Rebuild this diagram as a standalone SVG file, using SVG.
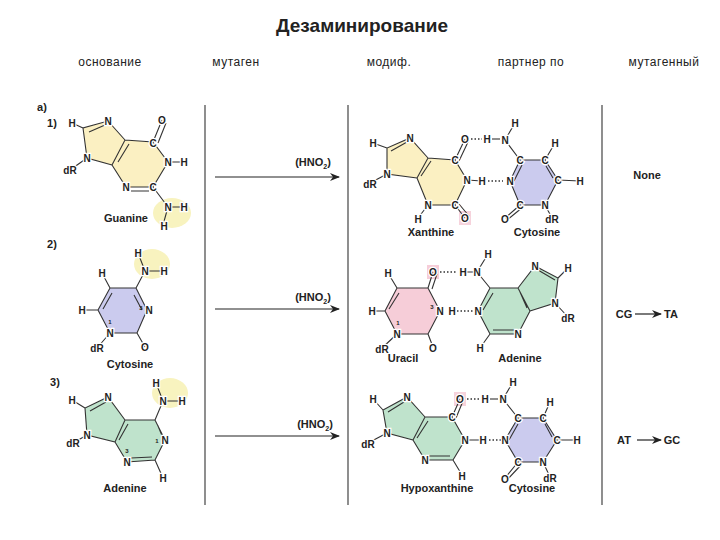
<svg xmlns="http://www.w3.org/2000/svg" width="720" height="540" viewBox="0 0 720 540">
<style>
text{font-family:"Liberation Sans",Arial,sans-serif;fill:#222}
.t{font-size:19px;font-weight:bold;text-anchor:middle}
.h{font-size:12px;text-anchor:middle;letter-spacing:0.5px}
.a{font-size:10px;font-weight:bold;text-anchor:middle;dominant-baseline:central;stroke:#fff;stroke-width:2.5;paint-order:stroke}
.s{font-size:6px;font-weight:bold;text-anchor:middle;dominant-baseline:central}
.l{font-size:11px;font-weight:bold;text-anchor:middle}
.b{fill:none;stroke:#333;stroke-width:1.1}
.d{fill:none;stroke:#333;stroke-width:1.4;stroke-dasharray:1.5 2}
.v{stroke:#444;stroke-width:1.2}
.ar{stroke:#222;stroke-width:1.2;marker-end:url(#m)}
.y{fill:#fbf0c2}.p{fill:#cbcbee}.k{fill:#f6cdd8}.g{fill:#bfe3cc}
.glow{fill:#f8f3bf}
</style>
<defs><marker id="m" markerWidth="10" markerHeight="8" refX="9" refY="4" orient="auto" markerUnits="userSpaceOnUse"><path d="M0 0L10 4L0 8L3 4Z" fill="#222"/></marker></defs>

<text class="t" x="362" y="32">Дезаминирование</text>
<text class="h" x="110" y="66">основание</text>
<text class="h" x="236" y="66">мутаген</text>
<text class="h" x="389" y="66">модиф.</text>
<text class="h" x="531" y="66">партнер по</text>
<text class="h" x="664" y="66">мутагенный</text>

<g id="frame">
<line class="v" x1="205" y1="105" x2="205" y2="505"/>
<line class="v" x1="348" y1="105" x2="348" y2="505"/>
<line class="v" x1="602" y1="105" x2="602" y2="505"/>
<text class="l" x="42" y="111">a)</text>
<text class="l" x="52" y="127">1)</text>
<text class="l" x="52" y="248">2)</text>
<text class="l" x="55" y="386">3)</text>
</g>

<g id="connectors">
<line class="ar" x1="215" y1="177" x2="339" y2="177"/>
<line class="ar" x1="215" y1="309" x2="339" y2="309"/>
<line class="ar" x1="215" y1="436" x2="339" y2="436"/>
<text class="l" x="313" y="166">(HNO<tspan font-size="7" dy="3">2</tspan><tspan dy="-3">)</tspan></text>
<text class="l" x="313" y="301">(HNO<tspan font-size="7" dy="3">2</tspan><tspan dy="-3">)</tspan></text>
<text class="l" x="315" y="428">(HNO<tspan font-size="7" dy="3">2</tspan><tspan dy="-3">)</tspan></text>
<text class="l" x="647" y="179">None</text>
<text class="l" x="624" y="318">CG</text>
<line class="ar" x1="635" y1="314" x2="661" y2="314"/>
<text class="l" x="671" y="318">TA</text>
<text class="l" x="624" y="444">AT</text>
<line class="ar" x1="637" y1="440" x2="661" y2="440"/>
<text class="l" x="672" y="444">GC</text>
</g>

<g id="guanine">
<ellipse class="glow" cx="172" cy="213" rx="19" ry="15"/>
<polygon class="y" points="125,140 153,142 168,162 153,187 126,187 112,165"/>
<polygon class="y" points="125,140 108,121 83,128 87,158 112,165"/>
<path class="b" d="M125 140L153 142L168 162L153 187L126 187L112 165Z M125 140L108 121L83 128L87 158L112 165 M153 142L162 120 M168 162L184 162 M153 187L168 207L184 207 M168 207L163 225 M83 128L72 123 M87 158L70 170 M118 162L129 144 M89 132L105 125 M158 143L166 123 M131 191L149 191"/>
<text class="a" x="108" y="121">N</text><text class="a" x="72" y="123">H</text>
<text class="a" x="162" y="120">O</text><text class="a" x="153" y="143">C</text>
<text class="a" x="168" y="162">N</text><text class="a" x="184" y="162">H</text>
<text class="a" x="153" y="187">C</text><text class="a" x="126" y="187">N</text>
<text class="a" x="87" y="158">N</text><text class="a" x="70" y="170">dR</text>
<text class="a" x="168" y="207">N</text><text class="a" x="184" y="207">H</text><text class="a" x="164" y="226">H</text>
<text class="l" x="126" y="222">Guanine</text>
</g>

<g id="cytosine1">
<ellipse class="glow" cx="152" cy="264" rx="18" ry="15"/>
<polygon class="p" points="136,288 147,310 137,333 110,333 98,310 110,288"/>
<path class="b" d="M136 288L147 310L137 333L110 333L98 310L110 288Z M136 288L145 271L164 271 M145 271L138 253 M137 333L145 347 M110 333L97 348 M110 288L102 273 M98 310L82 310 M134 295L142 310 M103 309L112 293"/>
<text class="a" x="138" y="253">H</text><text class="a" x="145" y="271">N</text><text class="a" x="164" y="271">H</text>
<text class="a" x="102" y="273">H</text><text class="a" x="82" y="310">H</text>
<text class="a" x="149" y="310">N</text><text class="s" x="141" y="308">3</text>
<text class="a" x="110" y="333">N</text><text class="s" x="110" y="322">1</text>
<text class="a" x="145" y="347">O</text><text class="a" x="97" y="348">dR</text>
<text class="l" x="130" y="368">Cytosine</text>
</g>

<g id="adenine1">
<ellipse class="glow" cx="170" cy="393" rx="18" ry="15"/>
<polygon class="g" points="125,420 155,420 165,440 155,460 127,462 115,442"/>
<polygon class="g" points="125,420 108,397 85,408 87,435 115,442"/>
<path class="b" d="M125 420L155 420L165 440L155 460L127 462L115 442Z M125 420L108 397L85 408L87 435L115 442 M155 420L163 401L182 401 M163 401L156 383 M155 460L163 478 M85 408L72 400 M87 435L73 443 M119 440L128 424 M90 411L106 402 M158 426L163 438 M131 458L152 457"/>
<text class="a" x="156" y="383">H</text><text class="a" x="163" y="401">N</text><text class="a" x="182" y="401">H</text>
<text class="a" x="108" y="397">N</text><text class="a" x="72" y="400">H</text>
<text class="a" x="165" y="440">N</text><text class="s" x="157" y="441">1</text>
<text class="a" x="127" y="462">N</text><text class="s" x="127" y="451">3</text>
<text class="a" x="87" y="435">N</text><text class="a" x="73" y="443">dR</text>
<text class="a" x="163" y="478">H</text>
<text class="l" x="125" y="492">Adenine</text>
</g>

<g id="xanthine">
<rect x="459" y="211" width="12" height="14" fill="#f6d3dc"/>
<polygon class="y" points="428,158 455,160 467,180 455,205 428,205 417,178"/>
<polygon class="y" points="428,158 410,138 387,148 387,174 417,178"/>
<path class="b" d="M428 158L455 160L467 180L455 205L428 205L417 178Z M428 158L410 138L387 148L387 174L417 178 M455 160L465 139 M467 180L482 181 M455 205L465 218 M428 205L418 218 M387 148L373 143 M387 174L370 183 M421 176L431 161 M391 151L407 142 M459 161L468 142 M459 204L469 216"/>
<text class="a" x="410" y="138">N</text><text class="a" x="373" y="143">H</text>
<text class="a" x="455" y="160">C</text><text class="a" x="465" y="139">O</text>
<text class="a" x="467" y="180">N</text><text class="a" x="482" y="181">H</text>
<text class="a" x="455" y="205">C</text><text class="a" x="465" y="218">O</text>
<text class="a" x="428" y="205">N</text><text class="a" x="418" y="219">H</text>
<text class="a" x="387" y="174">N</text><text class="a" x="370" y="184">dR</text>
<text class="l" x="431" y="236">Xanthine</text>
</g>

<g id="cytosine2">
<polygon class="p" points="520,160 545,160 558,180 545,205 520,205 510,181"/>
<path class="b" d="M520 160L545 160L558 180L545 205L520 205L510 181Z M520 160L505 140 M505 140L515 123 M545 160L555 143 M558 180L580 181 M545 205L552 218 M520 205L505 218 M546 166L553 178 M514 181L522 165 M523 207L507 220"/>
<path class="d" d="M471 139L482 139 M488 181L503 181"/>
<path class="b" d="M492 139L500 139"/>
<text class="a" x="487" y="139">H</text><text class="a" x="505" y="140">N</text><text class="a" x="515" y="123">H</text>
<text class="a" x="520" y="160">C</text><text class="a" x="545" y="160">C</text><text class="a" x="555" y="143">H</text>
<text class="a" x="558" y="180">C</text><text class="a" x="580" y="181">H</text>
<text class="a" x="510" y="181">N</text><text class="a" x="545" y="205">N</text><text class="a" x="520" y="205">C</text>
<text class="a" x="552" y="219">dR</text><text class="a" x="505" y="219">O</text>
<text class="l" x="537" y="236">Cytosine</text>
</g>

<g id="uracil">
<rect x="427" y="265" width="12" height="14" fill="#f6cdd8"/>
<polygon class="k" points="397,288 428,288 440,311 428,334 397,334 385,311"/>
<path class="b" d="M397 288L428 288L440 311L428 334L397 334L385 311Z M428 288L433 272 M397 288L388 273 M385 311L372 311 M397 334L382 348 M428 334L433 347 M389 309L399 293 M432 289L437 274"/>
<path class="d" d="M440 272L457 272 M457 311L473 311"/>
<text class="a" x="388" y="273">H</text><text class="a" x="433" y="272">O</text>
<text class="a" x="372" y="311">H</text><text class="a" x="440" y="311">N</text><text class="s" x="432" y="307">3</text>
<text class="a" x="397" y="334">N</text><text class="s" x="398" y="323">1</text>
<text class="a" x="382" y="349">dR</text><text class="a" x="433" y="348">O</text>
<text class="a" x="452" y="311">H</text>
<text class="l" x="403" y="362">Uracil</text>
</g>

<g id="adenine2">
<polygon class="g" points="490,288 518,288 530,311 518,334 490,334 478,311"/>
<polygon class="g" points="518,288 535,266 558,278 555,303 530,311"/>
<path class="b" d="M490 288L518 288L530 311L518 334L490 334L478 311Z M518 288L535 266L558 278L555 303L530 311 M490 288L477 272L463 272 M477 272L488 254 M490 334L480 348 M558 278L568 268 M555 303L568 317 M483 310L493 293 M520 292L527 308 M538 270L555 280 M493 330L515 330"/>
<text class="a" x="488" y="254">H</text><text class="a" x="477" y="272">N</text><text class="a" x="463" y="272">H</text>
<text class="a" x="535" y="266">N</text><text class="a" x="568" y="268">H</text>
<text class="a" x="478" y="311">N</text><text class="a" x="518" y="334">N</text>
<text class="a" x="555" y="303">N</text><text class="a" x="568" y="318">dR</text>
<text class="a" x="480" y="348">H</text>
<text class="l" x="520" y="362">Adenine</text>
</g>

<g id="hypoxanthine">
<rect x="454" y="392" width="12" height="14" fill="#f6d3dc"/>
<polygon class="g" points="425,417 452,417 465,440 453,460 425,460 413,440"/>
<polygon class="g" points="425,417 407,397 383,410 387,433 413,440"/>
<path class="b" d="M425 417L452 417L465 440L453 460L425 460L413 440Z M425 417L407 397L383 410L387 433L413 440 M452 417L460 399 M465 440L483 440 M453 460L462 475 M383 410L373 399 M387 433L368 443 M417 438L428 421 M388 412L404 402 M456 418L463 401 M429 456L450 456"/>
<text class="a" x="407" y="397">N</text><text class="a" x="373" y="399">H</text>
<text class="a" x="452" y="417">C</text><text class="a" x="460" y="399">O</text>
<text class="a" x="465" y="440">N</text><text class="a" x="483" y="440">H</text>
<text class="a" x="425" y="460">N</text><text class="a" x="462" y="476">H</text>
<text class="a" x="387" y="433">N</text><text class="a" x="368" y="444">dR</text>
<text class="l" x="437" y="492">Hypoxanthine</text>
</g>

<g id="cytosine3">
<polygon class="p" points="518,418 543,418 557,440 543,462 518,462 505,440"/>
<path class="b" d="M518 418L543 418L557 440L543 462L518 462L505 440Z M518 418L503 399 M503 399L513 382 M543 418L550 402 M557 440L577 440 M543 462L550 477 M518 462L505 478 M545 424L552 437 M509 440L518 424 M521 465L507 480"/>
<path class="d" d="M467 399L480 399 M489 440L503 440"/>
<path class="b" d="M490 399L498 399"/>
<text class="a" x="485" y="399">H</text><text class="a" x="503" y="399">N</text><text class="a" x="513" y="382">H</text>
<text class="a" x="518" y="418">C</text><text class="a" x="543" y="418">C</text><text class="a" x="550" y="402">H</text>
<text class="a" x="557" y="440">C</text><text class="a" x="577" y="440">H</text>
<text class="a" x="505" y="440">N</text><text class="a" x="543" y="462">N</text><text class="a" x="518" y="462">C</text>
<text class="a" x="550" y="478">dR</text><text class="a" x="505" y="479">O</text>
<text class="l" x="532" y="492">Cytosine</text>
</g>
</svg>
